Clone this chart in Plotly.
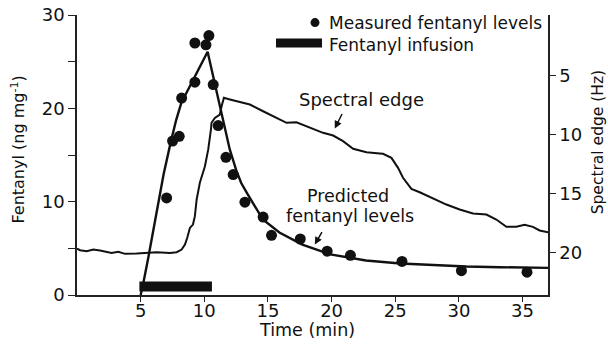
import plotly.graph_objects as go

# ---------------- data ----------------
# measured fentanyl levels (ng/mg) vs time (min)
measured_time = [7.04, 7.51, 8.03, 8.22, 9.26, 9.26, 10.13, 10.36, 10.70, 11.09,
                 11.70, 12.27, 13.19, 14.62, 15.28, 17.54, 19.65, 21.48, 25.53,
                 30.20, 35.35]
measured_level = [10.4, 16.5, 17.0, 21.1, 22.8, 27.0, 26.8, 27.8, 22.55, 18.15,
                  14.75, 12.9, 9.95, 8.35, 6.4, 6.0, 4.7, 4.25, 3.6, 2.6, 2.45]

# predicted fentanyl levels (curve)
predicted_time = [5.0, 5.2, 5.6, 6.1, 6.5, 6.8, 7.35, 7.8, 8.2, 8.9, 9.6, 10.26,
                  11.1, 12.0, 12.5, 12.9, 13.4, 14.6, 15.9, 17.7, 19.9, 22.7,
                  25.4, 28.0, 30.6, 33.2, 37.0]
predicted_level = [0.0, 1.2, 4.0, 7.6, 10.6, 12.9, 16.3, 18.8, 20.6, 22.5, 24.3,
                   26.06, 21.0, 15.6, 13.4, 12.0, 10.8, 8.1, 6.7, 5.4, 4.35,
                   3.7, 3.37, 3.19, 3.05, 2.98, 2.91]

# spectral edge (Hz) vs time (min)
spectral_time = [0.0, 0.24, 0.76, 1.28, 1.81, 2.33, 2.72, 3.24, 3.77, 4.69, 5.47,
                 6.26, 7.30, 7.83, 8.22, 8.48, 8.66, 8.87, 9.11, 9.26, 9.40,
                 9.65, 10.05, 10.31, 10.52, 10.57, 10.83, 11.22, 11.36, 11.54,
                 12.01, 12.79, 13.58, 14.62, 15.68, 16.46, 17.24, 18.29, 19.33,
                 20.12, 20.90, 21.69, 22.74, 23.78, 24.04, 24.70, 25.22, 25.61,
                 26.27, 26.92, 27.71, 29.02, 30.06, 31.11, 32.16, 32.94, 33.73,
                 34.51, 35.16, 35.82, 36.34, 37.0]
spectral_edge = [19.63, 19.77, 19.86, 19.72, 19.80, 19.94, 20.0, 19.91, 20.08,
                 20.06, 20.0, 19.94, 20.0, 19.94, 19.72, 19.29, 18.72, 17.88,
                 17.6, 16.89, 15.47, 14.06, 12.65, 11.23, 9.54, 8.97, 8.55,
                 8.27, 7.56, 6.85, 6.99, 7.22, 7.42, 7.99, 8.55, 8.97, 8.92,
                 9.39, 9.82, 10.05, 10.53, 11.17, 11.46, 11.57, 11.60, 11.94,
                 12.79, 13.63, 14.57, 14.86, 15.25, 15.90, 16.32, 16.66, 16.75,
                 17.17, 17.79, 17.79, 17.62, 17.79, 18.10, 18.25]

# fentanyl infusion period (min) and the level at which the bar is drawn
infusion_time = [4.9, 10.6]
infusion_level = [0.9, 0.9]

x_ticks = [5, 10, 15, 20, 25, 30, 35]
y_ticks = [0, 5, 10, 15, 20, 25, 30]
y_ticklabels = ["0", "", "10", "", "20", "", "30"]
y2_ticks = [5, 10, 15, 20]

# ---------------- figure ----------------
INK = "#111111"
FONT = "DejaVu Sans"

fig = go.Figure()

fig.add_trace(go.Scatter(x=spectral_time, y=spectral_edge, mode="lines",
                         line=dict(color=INK, width=2), yaxis="y2",
                         showlegend=False, hoverinfo="skip"))
fig.add_trace(go.Scatter(x=predicted_time, y=predicted_level, mode="lines",
                         line=dict(color=INK, width=2.4),
                         showlegend=False))
fig.add_trace(go.Scatter(x=infusion_time, y=infusion_level, mode="lines",
                         line=dict(color=INK, width=10),
                         showlegend=False))
fig.add_trace(go.Scatter(x=measured_time, y=measured_level, mode="markers",
                         marker=dict(color=INK, size=11),
                         showlegend=False))

axis_common = dict(showline=True, linecolor="#222222", linewidth=1.5,
                   ticks="outside", tickcolor="#222222", tickwidth=1.2,
                   showgrid=False, zeroline=False, automargin=False,
                   tickfont=dict(family=FONT, size=18, color=INK))

fig.update_layout(
    width=608, height=350,
    margin=dict(l=77, r=60, t=15, b=55, autoexpand=False),
    paper_bgcolor="white", plot_bgcolor="white",
    font=dict(family=FONT, color=INK),
    xaxis=dict(range=[0, 37], tickvals=x_ticks, ticklen=5,
               ticklabelstandoff=-6, **axis_common),
    yaxis=dict(range=[0, 30], tickvals=y_ticks, ticktext=y_ticklabels,
               ticklen=7, **axis_common),
    yaxis2=dict(range=[23.57, -0.17], tickvals=y2_ticks, overlaying="y",
                side="right", ticklen=6, **axis_common),
)

def txt(size):
    return dict(size=size, family=FONT, color=INK)

ann = []
# axis titles
ann.append(dict(text="Fentanyl (ng mg<sup>-1</sup>)", xref="paper", yref="paper",
                x=-0.125, y=0.52, xanchor="center", yanchor="middle",
                textangle=-90, showarrow=False, font=txt(16)))
ann.append(dict(text="Spectral edge (Hz)", xref="paper", yref="paper",
                x=1.106, y=0.545, xanchor="center", yanchor="middle",
                textangle=-90, showarrow=False, font=txt(15.5)))
ann.append(dict(text="Time (min)", xref="paper", yref="paper",
                x=0.488, y=-0.126, xanchor="center", yanchor="middle",
                showarrow=False, font=txt(17.5)))
# curve labels
ann.append(dict(text="Spectral edge", xref="x", yref="y", x=22.37, y=20.95,
                xanchor="center", yanchor="middle",
                showarrow=False, font=txt(18)))
ann.append(dict(text="", xref="x", yref="y", x=20.25, y=17.84, ax=8, ay=-16,
                showarrow=True, arrowhead=2, arrowsize=1, arrowwidth=1.5,
                arrowcolor=INK))
ann.append(dict(text="Predicted", xref="x", yref="y",
                x=21.27, y=10.58, xanchor="center", yanchor="middle",
                showarrow=False, font=txt(17.5)))
ann.append(dict(text="fentanyl levels", xref="x", yref="y",
                x=21.43, y=8.43, xanchor="center", yanchor="middle",
                showarrow=False, font=txt(17.5)))
ann.append(dict(text="", xref="x", yref="y", x=18.68, y=5.41, ax=8, ay=-14,
                showarrow=True, arrowhead=2, arrowsize=1, arrowwidth=1.5,
                arrowcolor=INK))
# legend texts
ann.append(dict(text="Measured fentanyl levels", xref="paper", yref="paper",
                x=0.5308, y=0.973, xanchor="left", yanchor="middle",
                showarrow=False, font=txt(17)))
ann.append(dict(text="Fentanyl infusion", xref="paper", yref="paper",
                x=0.5308, y=0.8946, xanchor="left", yanchor="middle",
                showarrow=False, font=txt(17)))
fig.update_layout(annotations=ann)

# legend symbols
fig.update_layout(shapes=[
    dict(type="circle", xref="paper", yref="paper", xsizemode="pixel",
         ysizemode="pixel", xanchor=0.5053, yanchor=0.973,
         x0=-4.5, x1=4.5, y0=-4.5, y1=4.5,
         fillcolor=INK, line=dict(width=0)),
    dict(type="rect", xref="paper", yref="paper",
         x0=0.4225, x1=0.5202, y0=0.884, y1=0.916,
         fillcolor=INK, line=dict(width=0)),
])

fig.write_html("out.html")
